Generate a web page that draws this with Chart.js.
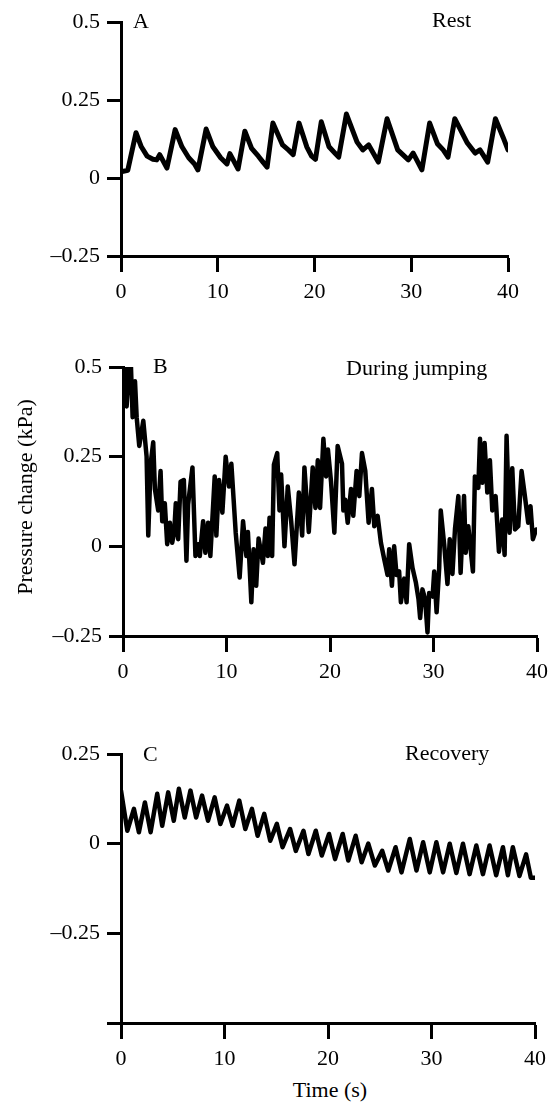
<!DOCTYPE html>
<html>
<head>
<meta charset="utf-8">
<script src="https://cdn.jsdelivr.net/npm/chart.js@4.4.1/dist/chart.umd.min.js"></script>
<style>
  body { margin: 0; background: #fff; }
  #wrap { position: relative; width: 555px; height: 1109px; font-family: "Liberation Serif", serif; color: #000; }
  canvas { position: absolute; left: 0; }
  .lbl { position: absolute; font-size: 22px; line-height: 22px; white-space: nowrap; }
</style>
</head>
<body>
<div id="wrap">
  <canvas id="restChart" width="555" height="306" style="top:0px"></canvas>
  <canvas id="jumpChart" width="555" height="356" style="top:330px"></canvas>
  <canvas id="recoveryChart" width="555" height="353" style="top:720px"></canvas>

  <div class="lbl" style="left:133px; top:10px">A</div>
  <div class="lbl" style="left:432px; top:9px">Rest</div>
  <div class="lbl" style="left:153px; top:355px">B</div>
  <div class="lbl" style="left:346px; top:357px">During jumping</div>
  <div class="lbl" style="left:143px; top:743px">C</div>
  <div class="lbl" style="left:405px; top:742px">Recovery</div>
  <div class="lbl" style="left:-125px; top:486px; width:300px; text-align:center; transform:rotate(-90deg)">Pressure change (kPa)</div>
  <div class="lbl" style="left:230px; top:1079px; width:200px; text-align:center">Time (s)</div>
</div>

<script>
// Ejes
const xTicks = [0, 10, 20, 30, 40];
const xLabels = ['0', '10', '20', '30', '40'];
const restYTicks = [-0.25, 0, 0.25, 0.5];
const restYLabels = ['\u20130.25', '0', '0.25', '0.5'];
const jumpYTicks = [-0.25, 0, 0.25, 0.5];
const jumpYLabels = ['\u20130.25', '0', '0.25', '0.5'];
const recoveryYTicks = [-0.5, -0.25, 0, 0.25];
const recoveryYLabels = ['', '\u20130.25', '0', '0.25'];

// A - Rest
const restTime = [0, 0.7, 1.55, 2.1, 2.7, 3.3, 3.7, 4.0, 4.75, 5.6, 6.3, 7.0, 7.6, 7.95, 8.8, 9.5, 10.3, 10.95, 11.25, 12.1,
  12.8, 13.5, 14.2, 14.7, 15.1, 15.7, 16.7, 17.3, 17.8, 18.4, 19.2, 19.7, 20.1, 20.7, 21.5, 22.1, 22.5, 23.3, 24.4, 25.0,
  25.6, 26.6, 27.5, 28.6, 29.7, 30.2, 31.1, 31.9, 32.7, 33.3, 33.8, 34.5, 35.8, 36.6, 37.1, 37.9, 38.7, 39.5, 40];
const restPressure = [0.02, 0.025, 0.145, 0.1, 0.07, 0.06, 0.058, 0.075, 0.032, 0.155, 0.1, 0.065, 0.045, 0.026, 0.157, 0.1, 0.065, 0.045, 0.078, 0.029,
  0.15, 0.095, 0.07, 0.05, 0.035, 0.176, 0.106, 0.09, 0.075, 0.176, 0.1, 0.07, 0.06, 0.18, 0.1, 0.08, 0.067, 0.205, 0.115, 0.09,
  0.106, 0.051, 0.19, 0.09, 0.058, 0.08, 0.026, 0.176, 0.11, 0.09, 0.067, 0.19, 0.112, 0.08, 0.09, 0.051, 0.19, 0.13, 0.09];

// B - During jumping
const jumpTime = [0, 0.19, 0.35, 0.58, 0.77, 0.93, 1.16, 1.32, 1.57, 1.96,
  2.28, 2.44, 2.67, 2.92, 3.08, 3.40, 3.63, 3.79, 4.04, 4.27,
  4.53, 4.75, 4.95, 5.1, 5.33, 5.56, 5.88, 6.13, 6.29, 6.71,
  7.0, 7.26, 7.42, 7.74, 7.96, 8.22, 8.44, 8.86, 9.02, 9.28,
  9.6, 9.92, 10.24, 10.47, 10.89, 11.27, 11.6, 11.92, 12.07, 12.4,
  12.62, 12.87, 13.1, 13.52, 13.77, 14.0, 14.16, 14.41, 14.58, 14.9,
  15.12, 15.28, 15.6, 15.92, 16.25, 16.57, 16.99, 17.31, 17.53, 17.95,
  18.33, 18.59, 18.82, 19.04, 19.36, 19.62, 19.8, 20.1, 20.42, 20.74,
  21.16, 21.29, 21.48, 21.71, 22.03, 22.25, 22.57, 22.83, 23.09, 23.41,
  23.73, 24.05, 24.28, 24.6, 24.92, 25.24, 25.56, 25.72, 25.98, 26.2,
  26.43, 26.68, 26.85, 27.17, 27.4, 27.65, 27.97, 28.29, 28.55, 28.71,
  28.93, 29.19, 29.42, 29.58, 29.91, 30.07, 30.3, 30.55, 30.7, 31.03,
  31.35, 31.57, 31.83, 32.08, 32.4, 32.62, 32.95, 33.11, 33.36, 33.81,
  34.0, 34.33, 34.49, 34.72, 34.94, 35.2, 35.45, 35.68, 36.0, 36.32,
  36.64, 36.87, 37.06, 37.35, 37.61, 37.87, 38.19, 38.51, 38.83, 39.15,
  39.37, 39.6, 39.92];
const jumpPressure = [0.39, 0.50, 0.39, 0.50, 0.50, 0.36, 0.46, 0.36, 0.28, 0.35,
  0.25, 0.03, 0.23, 0.29, 0.16, 0.10, 0.21, 0.07, 0.12, 0.006,
  0.066, 0.01, 0.04, 0.12, 0.02, 0.18, 0.185, -0.04, 0.117, 0.22,
  -0.027, 0.006, -0.027, 0.07, -0.018, 0.066, -0.027, 0.195, 0.03, 0.185,
  0.094, 0.25, 0.167, 0.23, 0.038, -0.087, 0.07, -0.027, 0.04, -0.156,
  -0.008, -0.11, 0.022, -0.046, 0.05, -0.027, 0.08, -0.027, 0.228, 0.26,
  0.10, 0.2, 0.0, 0.167, 0.07, -0.05, 0.15, 0.03, 0.22, 0.04,
  0.22, 0.107, 0.24, 0.107, 0.30, 0.195, 0.27, 0.18, 0.038, 0.28,
  0.23, 0.10, 0.13, 0.066, 0.16, 0.085, 0.21, 0.14, 0.26, 0.21,
  0.066, 0.16, 0.056, 0.085, 0.01, -0.036, -0.08, -0.008, -0.11, 0.0,
  -0.08, -0.07, -0.156, -0.09, -0.156, 0.006, -0.06, -0.1, -0.147, -0.2,
  -0.12, -0.147, -0.24, -0.13, -0.14, -0.07, -0.184, -0.06, 0.1, 0.006,
  -0.105, 0.02, -0.077, 0.05, 0.14, -0.074, 0.14, -0.018, 0.056, -0.07,
  0.195, 0.163, 0.30, 0.177, 0.288, 0.15, 0.24, 0.10, 0.14, -0.015,
  0.075, -0.024, 0.308, 0.038, 0.218, 0.047, 0.056, 0.21, 0.14, 0.066,
  0.112, 0.02, 0.047];

// C - Recovery
const recoveryTime = [0, 0.61, 1.25, 1.73, 2.31, 2.86, 3.5, 3.98, 4.56, 5.1,
  5.59, 6.16, 6.71, 7.26, 7.83, 8.41, 9.05, 9.6, 10.24, 10.79,
  11.43, 12.01, 12.65, 13.2, 13.84, 14.42, 15.06, 15.61, 16.34, 16.89,
  17.63, 18.11, 18.82, 19.4, 20.1, 20.68, 21.42, 21.96, 22.67, 23.25,
  23.89, 24.53, 25.24, 25.82, 26.53, 27.1, 27.9, 28.55, 29.19, 29.83,
  30.47, 31.12, 31.76, 32.4, 33.04, 33.68, 34.33, 34.97, 35.61, 36.25,
  36.9, 37.38, 37.86, 38.5, 39.14, 39.6, 40];
const recoveryPressure = [0.148, 0.036, 0.097, 0.032, 0.115, 0.032, 0.139, 0.05, 0.143, 0.064,
  0.153, 0.073, 0.148, 0.073, 0.134, 0.064, 0.129, 0.055, 0.106, 0.05,
  0.12, 0.041, 0.097, 0.022, 0.083, 0.008, 0.055, -0.01, 0.041, -0.02,
  0.036, -0.029, 0.036, -0.033, 0.027, -0.043, 0.027, -0.047, 0.022, -0.052,
  0.0, -0.061, -0.02, -0.075, -0.01, -0.08, 0.013, -0.075, 0.004, -0.08,
  0.004, -0.08, 0.0, -0.082, 0.0, -0.085, -0.005, -0.085, -0.005, -0.088,
  -0.01, -0.088, -0.01, -0.09, -0.03, -0.095, -0.095];

Chart.defaults.color = '#000';
Chart.defaults.font.family = '"Liberation Serif", serif';
Chart.defaults.font.size = 22;

function makePanel(id, time, pressure, yMin, yMax, yTicks, yLabels, pad, yWidth, lineW) {
  const ctx = document.getElementById(id).getContext('2d');
  return new Chart(ctx, {
    type: 'line',
    data: {
      datasets: [{
        data: time.map((t, i) => ({ x: t, y: pressure[i] })),
        borderColor: '#000',
        borderWidth: lineW,
        borderJoinStyle: 'round',
        borderCapStyle: 'round',
        pointRadius: 0,
        tension: 0,
        fill: false,
      }],
    },
    options: {
      responsive: false,
      animation: false,
      layout: { padding: pad },
      plugins: { legend: { display: false }, tooltip: { enabled: false } },
      scales: {
        x: {
          type: 'linear',
          min: 0,
          max: 40,
          afterBuildTicks: axis => { axis.ticks = xTicks.map(v => ({ value: v })); },
          afterFit: scale => { scale.height = 50; },
          ticks: { padding: 7, maxRotation: 0, callback: (v, i) => xLabels[i] },
          grid: { drawOnChartArea: false, drawTicks: true, tickLength: 16, tickWidth: 3, tickColor: '#000' },
          border: { display: true, color: '#000', width: 3 },
        },
        y: {
          type: 'linear',
          min: yMin,
          max: yMax,
          afterBuildTicks: axis => { axis.ticks = yTicks.map(v => ({ value: v })); },
          afterFit: scale => { scale.width = yWidth; },
          ticks: { padding: 7, callback: (v, i) => yLabels[i] },
          grid: { drawOnChartArea: false, drawTicks: true, tickLength: 14, tickWidth: 3, tickColor: '#000' },
          border: { display: true, color: '#000', width: 3 },
        },
      },
    },
  });
}

makePanel('restChart', restTime, restPressure, -0.25, 0.5, restYTicks, restYLabels,
  { top: 22, right: 47, left: 0, bottom: 0 }, 121, 5);
makePanel('jumpChart', jumpTime, jumpPressure, -0.25, 0.5, jumpYTicks, jumpYLabels,
  { top: 37, right: 17, left: 0, bottom: 0 }, 123, 4.5);
makePanel('recoveryChart', recoveryTime, recoveryPressure, -0.5, 0.25, recoveryYTicks, recoveryYLabels,
  { top: 34, right: 20, left: 0, bottom: 0 }, 121, 4.5);
</script>
</body>
</html>
